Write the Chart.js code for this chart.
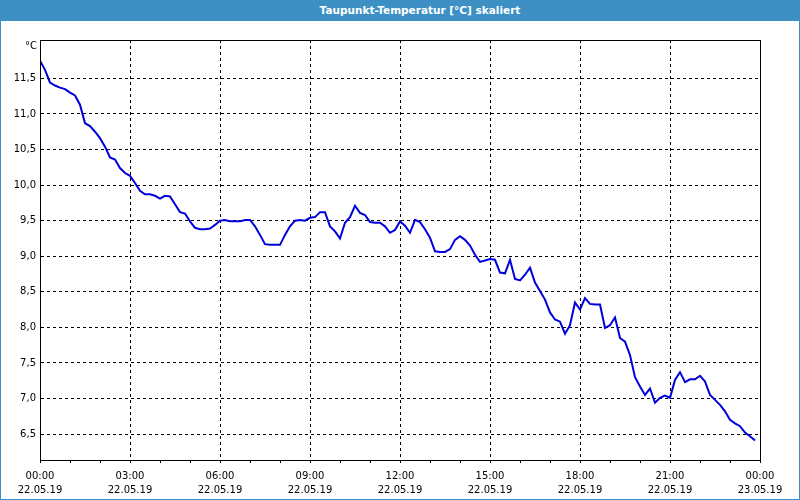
<!DOCTYPE html>
<html>
<head>
<meta charset="utf-8">
<script src="https://cdn.jsdelivr.net/npm/chart.js@4"></script>
<style>
  html, body { margin: 0; padding: 0; background: #fff; }
  #wrap { position: relative; width: 800px; height: 500px; overflow: hidden; }
  #chart { position: absolute; left: 0; top: 0; }
  #frame { position: absolute; left: 0; top: 0; width: 800px; height: 500px; box-sizing: border-box;
           border: 1px solid #3c90c4; pointer-events: none; }
  #title { position: absolute; left: 40px; top: 0; width: 760px; height: 21px; color: #fff;
           font: bold 10.5px "DejaVu Sans", sans-serif; text-align: center; line-height: 21px; }
  #bar { position: absolute; left: 0; top: 0; width: 800px; height: 21px; background: #3c90c4; }
</style>
</head>
<body>
<div id="wrap">
  <canvas id="chart" width="800" height="500"></canvas>
  <div id="frame"></div>
  <div id="bar"></div>
  <div id="title">Taupunkt-Temperatur [°C] skaliert</div>
</div>
<script>
// dew point, one value every 10 minutes from 22.05.19 00:00
var stepMinutes = 10;
var dewPoint = [
  11.75, 11.62, 11.44, 11.40, 11.37, 11.35, 11.30, 11.26, 11.13, 10.87,
  10.83, 10.75, 10.66, 10.54, 10.39, 10.36, 10.24, 10.17, 10.13, 10.03,
  9.92, 9.87, 9.87, 9.85, 9.81, 9.85, 9.84, 9.73, 9.62, 9.60,
  9.49, 9.40, 9.38, 9.38, 9.39, 9.44, 9.50,
  9.51, 9.49, 9.49, 9.49, 9.51, 9.51, 9.42, 9.30, 9.17, 9.16,
  9.16, 9.16, 9.30, 9.42, 9.50, 9.51, 9.50, 9.54, 9.55, 9.62,
  9.62, 9.42, 9.35, 9.25, 9.47, 9.55, 9.71, 9.61, 9.58, 9.48,
  9.47, 9.47, 9.42, 9.33, 9.37, 9.49,
  9.43, 9.33, 9.51, 9.48, 9.38, 9.26, 9.07, 9.06, 9.06, 9.10,
  9.23, 9.28, 9.23, 9.15, 9.02, 8.92, 8.94, 8.96, 8.95, 8.77,
  8.76, 8.95, 8.68, 8.66, 8.74, 8.84, 8.63, 8.51, 8.39, 8.21,
  8.11, 8.08, 7.91, 8.03, 8.35, 8.25,
  8.41, 8.33, 8.32, 8.32, 7.99, 8.03, 8.14, 7.85, 7.80, 7.61,
  7.30, 7.17, 7.05, 7.14, 6.94, 7.01, 7.04, 7.01, 7.26, 7.37,
  7.23, 7.27, 7.27, 7.32, 7.24, 7.05, 6.98, 6.91, 6.82, 6.70,
  6.65, 6.61, 6.52, 6.47, 6.41
];
var timeLabels = ['00:00', '03:00', '06:00', '09:00', '12:00', '15:00', '18:00', '21:00', '00:00'];
var dateLabels = ['22.05.19', '22.05.19', '22.05.19', '22.05.19', '22.05.19', '22.05.19', '22.05.19', '22.05.19', '23.05.19'];
var yTicks = [6.5, 7.0, 7.5, 8.0, 8.5, 9.0, 9.5, 10.0, 10.5, 11.0, 11.5];
var yMin = 6.135, yMax = 12.04;

var points = dewPoint.map(function (v, i) { return { x: i * stepMinutes, y: v }; });

var font = { family: 'DejaVu Sans', size: 10 };

// box around plot area and the unit label
var frame = {
  id: 'frame',
  afterDraw: function (chart) {
    var a = chart.chartArea, c = chart.ctx;
    c.save();
    c.strokeStyle = '#000';
    c.lineWidth = 1;
    c.setLineDash([]);
    c.strokeRect(Math.round(a.left) + 0.5, Math.round(a.top) + 0.5,
                 Math.round(a.right - a.left), Math.round(a.bottom - a.top));
    c.fillStyle = '#000';
    c.font = '10px "DejaVu Sans"';
    c.textAlign = 'right';
    c.textBaseline = 'middle';
    c.fillText('°C', a.left - 3, a.top + 6);
    c.restore();
  }
};

new Chart(document.getElementById('chart'), {
  type: 'line',
  data: {
    datasets: [{
      data: points,
      borderColor: '#0000dd',
      borderWidth: 2,
      pointRadius: 0,
      tension: 0
    }]
  },
  plugins: [frame],
  options: {
    responsive: false,
    animation: false,
    layout: { padding: { top: 40, right: 40, left: 0, bottom: 0 } },
    plugins: { legend: { display: false }, tooltip: { enabled: false } },
    scales: {
      x: {
        type: 'linear',
        min: 0,
        max: 1440,
        afterFit: function (s) { s.height = 40; },
        border: { color: '#000', width: 1, dash: [3, 3] },
        grid: {
          color: function (ctx) { return ctx.tick && ctx.tick.value % 180 === 0 ? '#000' : 'rgba(0,0,0,0)'; },
          tickColor: '#000',
          tickLength: 3,
          tickBorderDash: []
        },
        ticks: {
          stepSize: 60,
          autoSkip: false,
          maxRotation: 0,
          color: '#000',
          font: { family: 'DejaVu Sans', size: 10, lineHeight: 1.4 },
          padding: 6,
          callback: function (v) {
            if (v % 180 !== 0) return '';
            var k = v / 180;
            return [timeLabels[k], dateLabels[k]];
          }
        }
      },
      y: {
        min: yMin,
        max: yMax,
        afterFit: function (s) { s.width = 40; },
        afterBuildTicks: function (s) { s.ticks = yTicks.map(function (v) { return { value: v }; }); },
        border: { color: '#000', width: 1, dash: [3, 3] },
        grid: { color: '#000', drawTicks: false },
        ticks: {
          color: '#000',
          font: font,
          padding: 4,
          callback: function (v) { return v.toFixed(1).replace('.', ','); }
        }
      }
    }
  }
});
</script>
</body>
</html>
